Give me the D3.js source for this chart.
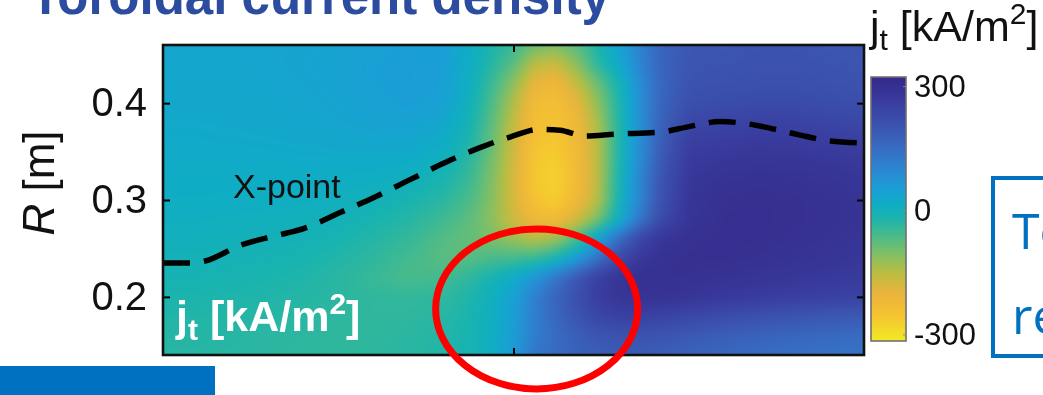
<!DOCTYPE html>
<html>
<head>
<meta charset="utf-8">
<script src="https://cdn.jsdelivr.net/npm/d3@7"></script>
<style>
  html, body { margin: 0; padding: 0; background: #fff; }
  #wrap { position: relative; width: 1043px; height: 395px; overflow: hidden; background: #fff; }
  #wrap canvas, #wrap svg { position: absolute; left: 0; top: 0; }
</style>
</head>
<body>
<div id="wrap"></div>
<script>
// ---- sampled toroidal current density j_t [kA/m^2] on a (time, R) grid ----
const timeSamples   = [0, 5, 10, 15, 20, 25, 30, 35, 40, 44, 47, 50, 53, 56, 59, 62, 65, 68, 71, 75, 80, 85, 90, 95, 100];
const radiusSamples = [0.46, 0.44, 0.42, 0.40, 0.38, 0.36, 0.34, 0.32, 0.30, 0.28, 0.26, 0.24, 0.22, 0.20, 0.18, 0.16, 0.14];

const jt_R046 = [32, 32, 33, 35, 37, 40, 45, 50, 48, 12, -20, -45, -90, -100, -70, -20, 35, 110, 165, 195, 200, 203, 203, 200, 197];
const jt_R044 = [32, 32, 33, 35, 38, 42, 48, 55, 52, 10, -30, -75, -155, -170, -115, -35, 25, 100, 165, 200, 203, 206, 206, 203, 200];
const jt_R042 = [30, 30, 31, 33, 36, 41, 48, 56, 50, 5, -50, -115, -205, -218, -165, -90, -10, 85, 160, 205, 210, 214, 214, 210, 206];
const jt_R040 = [28, 28, 29, 31, 34, 39, 46, 52, 44, -2, -65, -145, -228, -240, -200, -118, -22, 80, 165, 215, 222, 228, 228, 222, 216];
const jt_R038 = [26, 26, 27, 29, 31, 35, 40, 44, 32, -12, -78, -160, -238, -250, -215, -140, -25, 80, 170, 235, 242, 248, 246, 240, 234];
const jt_R036 = [23, 23, 24, 25, 27, 29, 32, 32, 18, -24, -88, -170, -248, -260, -222, -150, -25, 85, 180, 255, 262, 268, 266, 260, 254];
const jt_R034 = [20, 20, 20, 21, 22, 22, 22, 18, 2, -38, -98, -175, -258, -272, -228, -155, -20, 90, 190, 268, 280, 285, 283, 277, 270];
const jt_R032 = [17, 17, 16, 16, 15, 13, 10, 2, -16, -52, -108, -180, -260, -278, -230, -155, -15, 100, 200, 278, 292, 296, 294, 288, 281];
const jt_R030 = [13, 13, 12, 11, 9, 5, -2, -14, -32, -66, -112, -178, -250, -268, -220, -150, -10, 100, 205, 283, 300, 302, 300, 295, 288];
const jt_R028 = [8, 8, 6, 4, 1, -4, -14, -28, -52, -80, -118, -170, -215, -225, -175, -100, 10, 130, 225, 285, 302, 303, 300, 295, 288];
const jt_R026 = [2, 2, 0, -3, -7, -14, -26, -42, -70, -85, -100, -125, -150, -130, -60, 40, 150, 235, 280, 298, 303, 302, 298, 292, 285];
const jt_R024 = [-5, -5, -7, -10, -15, -24, -38, -55, -75, -72, -60, -55, -45, -10, 55, 140, 225, 275, 295, 303, 303, 298, 292, 285, 278];
const jt_R022 = [-12, -12, -14, -17, -22, -32, -46, -62, -55, -35, -10, 20, 70, 130, 195, 255, 288, 300, 300, 298, 292, 285, 280, 273, 266];
const jt_R020 = [-18, -18, -20, -23, -27, -33, -38, -40, -38, -20, 5, 45, 110, 165, 215, 258, 282, 292, 293, 285, 275, 265, 258, 252, 248];
const jt_R018 = [-24, -24, -26, -29, -32, -36, -38, -37, -32, -15, 8, 52, 115, 160, 200, 238, 252, 252, 245, 235, 222, 212, 204, 196, 190];
const jt_R016 = [-28, -28, -30, -33, -35, -37, -37, -34, -27, -12, 10, 55, 115, 150, 178, 198, 206, 206, 202, 192, 178, 170, 163, 157, 152];
const jt_R014 = [-30, -30, -32, -34, -36, -37, -36, -32, -25, -10, 12, 60, 130, 155, 172, 182, 186, 186, 180, 170, 160, 150, 143, 138, 135];

// X-point radial position versus time
const xpointTime = [0, 3.85, 5.99, 10.98, 15.98, 20.26, 25.25, 30.24, 35.24, 40.94, 45.22, 49.5, 53.78, 56.63, 60.2, 64.48, 70.9, 75.18, 79.46, 83.02, 87.3, 90.87, 95.15, 100];
const xpointR    = [0.235, 0.235, 0.237, 0.253, 0.263, 0.271, 0.287, 0.303, 0.321, 0.341, 0.354, 0.365, 0.373, 0.372, 0.366, 0.368, 0.370, 0.376, 0.381, 0.379, 0.373, 0.367, 0.361, 0.359];

// axis ticks
const yTicks = [0.2, 0.3, 0.4];
const xTicks = [50];
const cbTicks = [300, 0, -300];

// ---------------------------------------------------------------------------
const jtRows = [jt_R046, jt_R044, jt_R042, jt_R040, jt_R038, jt_R036, jt_R034, jt_R032, jt_R030,
                jt_R028, jt_R026, jt_R024, jt_R022, jt_R020, jt_R018, jt_R016, jt_R014];

const W = 1043, H = 395;
const plot = { x0: 163, y0: 45, x1: 864, y1: 355 };
const FONT = "'Liberation Sans', Arial, Helvetica, sans-serif";

const x = d3.scaleLinear().domain([0, 100]).range([plot.x0, plot.x1]);
const y = d3.scaleLinear().domain([0.14, 0.46]).range([plot.y1, plot.y0]);

// parula-like map, positive current = dark blue, negative = yellow
const cStops = [-318, -250, -200, -150, -100, -50, -15, 15, 50, 100, 150, 200, 260, 322];
const cCols  = ['#f2ea24', '#f5c232', '#eab43c', '#b8bd42', '#79bf6a', '#3cb994', '#18b3b0',
                '#0fadc5', '#1a9fd5', '#2c86d2', '#376cc2', '#3b55b0', '#393d9f', '#34298a'];
const color = d3.scaleLinear().domain(cStops).range(cCols).clamp(true);

const wrap = d3.select('#wrap');

// ---- heatmap (bilinear in value space, softened slightly) ----
const pw = plot.x1 - plot.x0, ph = plot.y1 - plot.y0, pad = 8;
const off = document.createElement('canvas');
off.width = pw + 2 * pad; off.height = ph + 2 * pad;
const octx = off.getContext('2d');
const img = octx.createImageData(off.width, off.height);

// colour lookup table
const LUT_N = 1024, vMin = -320, vMax = 322;
const lut = new Uint8ClampedArray(LUT_N * 3);
for (let i = 0; i < LUT_N; i++) {
  const c = d3.rgb(color(vMin + (vMax - vMin) * i / (LUT_N - 1)));
  lut[i * 3] = c.r; lut[i * 3 + 1] = c.g; lut[i * 3 + 2] = c.b;
}
function locate(arr, v, desc) {
  const n = arr.length;
  if (desc) {
    if (v >= arr[0]) return [0, 0];
    if (v <= arr[n - 1]) return [n - 2, 1];
    let i = 0; while (i < n - 2 && arr[i + 1] > v) i++;
    return [i, (arr[i] - v) / (arr[i] - arr[i + 1])];
  }
  if (v <= arr[0]) return [0, 0];
  if (v >= arr[n - 1]) return [n - 2, 1];
  let i = d3.bisectRight(arr, v) - 1; if (i > n - 2) i = n - 2;
  return [i, (v - arr[i]) / (arr[i + 1] - arr[i])];
}
const colLoc = [];
for (let i = 0; i < off.width; i++) colLoc.push(locate(timeSamples, x.invert(plot.x0 - pad + i + 0.5), false));
for (let j = 0; j < off.height; j++) {
  const [rk, rf] = locate(radiusSamples, y.invert(plot.y0 - pad + j + 0.5), true);
  const a = jtRows[rk], b = jtRows[rk + 1];
  for (let i = 0; i < off.width; i++) {
    const [ck, cf] = colLoc[i];
    const top = a[ck] + (a[ck + 1] - a[ck]) * cf;
    const bot = b[ck] + (b[ck + 1] - b[ck]) * cf;
    const v = top + (bot - top) * rf;
    let li = Math.round((v - vMin) / (vMax - vMin) * (LUT_N - 1));
    li = Math.max(0, Math.min(LUT_N - 1, li));
    const p = (j * off.width + i) * 4;
    img.data[p] = lut[li * 3]; img.data[p + 1] = lut[li * 3 + 1]; img.data[p + 2] = lut[li * 3 + 2]; img.data[p + 3] = 255;
  }
}
octx.putImageData(img, 0, 0);
const heat = wrap.append('canvas').attr('width', pw).attr('height', ph)
  .style('left', plot.x0 + 'px').style('top', plot.y0 + 'px');
const hctx = heat.node().getContext('2d');
hctx.filter = 'blur(4px)';
hctx.drawImage(off, -pad, -pad);

// ---- vector layer ----
const svg = wrap.append('svg').attr('width', W).attr('height', H).style('font-family', FONT);

// slide title (partly above the visible area)
svg.append('text').attr('x', 30).attr('y', 14)
  .attr('font-size', 51).attr('font-weight', 'bold').attr('fill', '#2c4c9f')
  .text('Toroidal current density');

svg.append('clipPath').attr('id', 'plotClip').append('rect')
  .attr('x', plot.x0).attr('y', plot.y0).attr('width', pw).attr('height', ph);

// X-point trace
const line = d3.line().x((d, i) => x(xpointTime[i])).y((d, i) => y(xpointR[i])).curve(d3.curveMonotoneX);
svg.append('path').datum(xpointTime).attr('d', line)
  .attr('clip-path', 'url(#plotClip)')
  .attr('fill', 'none').attr('stroke', '#000').attr('stroke-width', 5.5)
  .attr('stroke-dasharray', '27 14');

svg.append('text').attr('x', 233).attr('y', 198).attr('font-size', 34).attr('fill', '#111')
  .text('X-point');

// in-plot white quantity label
const lab = svg.append('text').attr('x', 176).attr('y', 331).attr('font-size', 43)
  .attr('font-weight', 'bold').attr('fill', '#fff');
lab.append('tspan').text('j');
lab.append('tspan').attr('font-size', 30).attr('dy', 9).text('t');
lab.append('tspan').attr('dy', -9).text(' [kA/m');
lab.append('tspan').attr('font-size', 30).attr('dy', -17).text('2');
lab.append('tspan').attr('dy', 17).text(']');

// axes frame and ticks
const axStyle = g => {
  g.select('.domain').remove();
  g.selectAll('.tick line').attr('stroke', '#000').attr('stroke-width', 2);
  g.selectAll('.tick text').attr('font-family', FONT).attr('fill', '#111');
};
svg.append('g').attr('transform', `translate(${plot.x0},0)`)
  .call(d3.axisLeft(y).tickValues(yTicks).tickFormat(d3.format('.1f')).tickSizeInner(-7).tickSizeOuter(0).tickPadding(16))
  .call(axStyle).call(g => g.selectAll('.tick text').attr('font-size', 40));
svg.append('g').attr('transform', `translate(${plot.x1},0)`)
  .call(d3.axisRight(y).tickValues(yTicks).tickFormat('').tickSizeInner(-7).tickSizeOuter(0))
  .call(axStyle);
svg.append('g').attr('transform', `translate(0,${plot.y1})`)
  .call(d3.axisBottom(x).tickValues(xTicks).tickFormat('').tickSizeInner(-7).tickSizeOuter(0))
  .call(axStyle);
svg.append('g').attr('transform', `translate(0,${plot.y0})`)
  .call(d3.axisTop(x).tickValues(xTicks).tickFormat('').tickSizeInner(-7).tickSizeOuter(0))
  .call(axStyle);
svg.append('rect').attr('x', plot.x0).attr('y', plot.y0).attr('width', pw).attr('height', ph)
  .attr('fill', 'none').attr('stroke', '#111').attr('stroke-width', 2.6);

// y-axis title
const yt = svg.append('text').attr('transform', 'translate(38,183) rotate(-90)')
  .attr('text-anchor', 'middle').attr('dominant-baseline', 'central')
  .attr('font-size', 44).attr('fill', '#111');
yt.append('tspan').attr('font-style', 'italic').text('R');
yt.append('tspan').text(' [m]');

// ---- colour bar ----
const cb = { x: 871, y0: 77, y1: 341, w: 35 };
const cbScale = d3.scaleLinear().domain([-316, 322]).range([cb.y1, cb.y0]);
const grad = svg.append('defs').append('linearGradient').attr('id', 'cbGrad')
  .attr('x1', 0).attr('x2', 0).attr('y1', 1).attr('y2', 0);
d3.range(0, 1.0001, 0.02).forEach(f => {
  grad.append('stop').attr('offset', f).attr('stop-color', color(cbScale.domain()[0] + f * (cbScale.domain()[1] - cbScale.domain()[0])));
});
svg.append('rect').attr('x', cb.x).attr('y', cb.y0).attr('width', cb.w).attr('height', cb.y1 - cb.y0)
  .attr('fill', 'url(#cbGrad)').attr('stroke', '#707070').attr('stroke-width', 1.6);
svg.append('g').attr('transform', `translate(${cb.x + cb.w},0)`)
  .call(d3.axisRight(cbScale).tickValues(cbTicks).tickFormat(d => String(d)).tickSizeInner(-3).tickSizeOuter(0).tickPadding(8))
  .call(g => {
    g.select('.domain').remove();
    g.selectAll('.tick line').attr('stroke', '#888').attr('stroke-width', 1);
    g.selectAll('.tick text').attr('font-family', FONT).attr('font-size', 31).attr('fill', '#111');
  });
const cbt = svg.append('text').attr('x', 870).attr('y', 41).attr('font-size', 43).attr('fill', '#111');
cbt.append('tspan').text('j');
cbt.append('tspan').attr('font-size', 30).attr('dy', 9).text('t');
cbt.append('tspan').attr('dy', -9).text(' [kA/m');
cbt.append('tspan').attr('font-size', 30).attr('dy', -17).text('2');
cbt.append('tspan').attr('dy', 17).text(']');

// ---- slide annotations ----
svg.append('ellipse').attr('cx', x(53.3)).attr('cy', y(0.1876)).attr('rx', 101).attr('ry', 80)
  .attr('fill', 'none').attr('stroke', '#ff0000').attr('stroke-width', 7);

svg.append('rect').attr('x', 993).attr('y', 178).attr('width', 80).attr('height', 178)
  .attr('fill', 'none').attr('stroke', '#0070c0').attr('stroke-width', 4);
svg.append('text').attr('x', 1012).attr('y', 249).attr('font-size', 50).attr('fill', '#0070c0')
  .attr('font-family', "'Open Sans', 'Liberation Sans', sans-serif").text('To');
svg.append('text').attr('x', 1012).attr('y', 334).attr('font-size', 50).attr('fill', '#0070c0')
  .attr('font-family', "'Open Sans', 'Liberation Sans', sans-serif").text('re');

svg.append('rect').attr('x', 0).attr('y', 366).attr('width', 215).attr('height', 40).attr('fill', '#0070c0');
</script>
</body>
</html>
